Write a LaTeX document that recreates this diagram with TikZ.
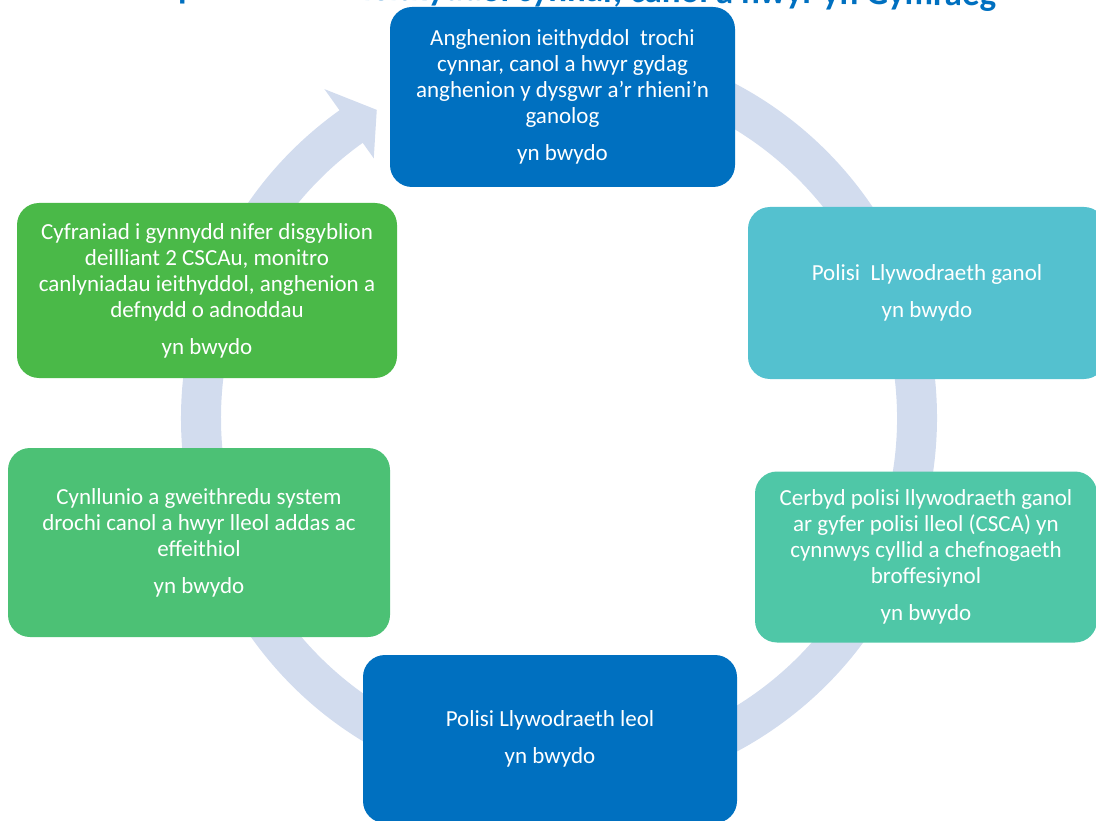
\documentclass[tikz,border=0pt]{standalone}
\usepackage{fontspec}
\setmainfont{Carlito}
\definecolor{cycblue}{RGB}{0, 112, 192}
\definecolor{cycteal}{RGB}{84, 193, 207}
\definecolor{cycaqua}{RGB}{79, 199, 167}
\definecolor{cycmint}{RGB}{76, 193, 117}
\definecolor{cycgreen}{RGB}{74, 185, 72}
\definecolor{cycring}{RGB}{210, 220, 238}
\tikzset{
  % Rounded stage card (#1 = fill hue).
  card/.style={
    rectangle, rounded corners=22pt,
    draw=none, fill=#1,
    inner sep=0pt,
    align=center,
    font=\fontsize{23}{26}\selectfont,
    text=white,
  },
  card-blue/.style ={card=cycblue},
  card-teal/.style ={card=cycteal},
  card-aqua/.style ={card=cycaqua},
  card-mint/.style ={card=cycmint},
  card-green/.style={card=cycgreen},
  % Heading, cut by the top edge.
  heading/.style={
    font=\fontsize{35}{42}\selectfont\bfseries,
    text=cycblue, inner sep=0pt,
  },
}

\begin{document}
\begin{tikzpicture}[x=1pt, y=1pt]

  % Frame of the page; everything outside is cut away.
  \useasboundingbox (0,0) rectangle (1096,-821);
  \clip (0,0) rectangle (1096,-821);

  % Heading above the cycle.
  \node[heading, anchor=base, rotate=-0.5] (pennawd) at (587,-2)
    {polisi drochi ieithyddol cynnar, canol a hwyr yn Gymraeg};

  % Circular arrow behind the cards.
  \fill[cycring, shift={(559,-418)}]
    (125.5:378) arc[start angle=125.5, end angle=460, radius=378pt]
    -- (460:338) arc[start angle=460, end angle=125.5, radius=338pt]
    -- (125.5:319) -- (120.6:358) -- (125.5:404) -- cycle;

  % Six stages round the ring.
  \node[card-blue, minimum width=345pt, minimum height=180pt] (anghen) at (562.5,-97) {%
    Anghenion ieithyddol\ \ trochi\\
    cynnar, canol a hwyr gydag\\
    anghenion y dysgwr a’r rhieni’n\\
    ganolog\\[11pt]
    yn bwydo%
  };
  \node[card-teal, minimum width=358pt, minimum height=172pt] (polganol) at (927,-293) {%
    Polisi\ \ Llywodraeth ganol\\[11pt]
    yn bwydo%
  };
  \node[card-aqua, minimum width=342pt, minimum height=171pt] (cerbyd) at (926,-557) {%
    Cerbyd polisi llywodraeth ganol\\
    ar gyfer polisi lleol (CSCA) yn\\
    cynnwys cyllid a chefnogaeth\\
    broffesiynol\\[11pt]
    yn bwydo%
  };
  \node[card-blue, minimum width=374pt, minimum height=168pt] (polleol) at (550,-739) {%
    Polisi Llywodraeth leol\\[11pt]
    yn bwydo%
  };
  \node[card-mint, minimum width=382pt, minimum height=189pt] (cynllunio) at (199,-542.5) {%
    Cynllunio a gweithredu system\\
    drochi canol a hwyr lleol addas ac\\
    effeithiol\\[11pt]
    yn bwydo%
  };
  \node[card-green, minimum width=380pt, minimum height=175pt] (cyfraniad) at (207,-290.5) {%
    Cyfraniad i gynnydd nifer disgyblion\\
    deilliant 2 CSCAu, monitro\\
    canlyniadau ieithyddol, anghenion a\\
    defnydd o adnoddau\\[11pt]
    yn bwydo%
  };

\end{tikzpicture}
\end{document}
